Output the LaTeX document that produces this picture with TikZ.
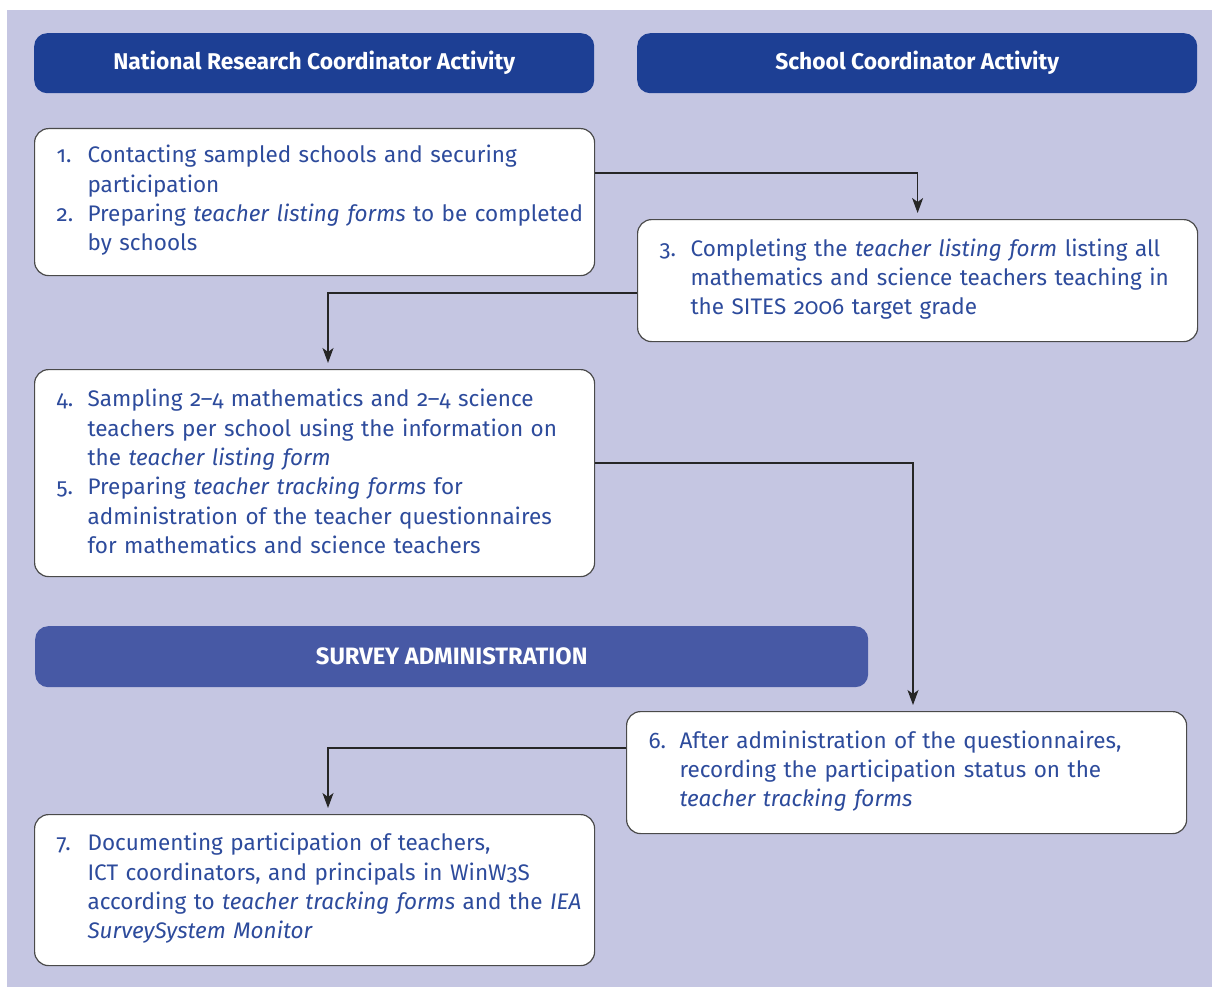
\documentclass[tikz,border=0pt]{standalone}
\usepackage{fontspec}
\setmainfont[Numbers=OldStyle]{Fira Sans}
\usetikzlibrary{arrows.meta}

\definecolor{panelbg}{HTML}{C5C6E2}
\definecolor{headblue}{HTML}{1D3F94}
\definecolor{survblue}{HTML}{4759A5}
\definecolor{txtblue}{HTML}{2D4B9C}
\definecolor{edgegray}{HTML}{4A4A4A}

\hyphenpenalty=10000
\newlength{\numw}\setlength{\numw}{31pt}
\newlength{\padw}\setlength{\padw}{22pt}
\newcommand{\stepitem}[2]{\par\hangindent=\dimexpr\padw+\numw\relax\hangafter=1
  \noindent\hspace*{\padw}\makebox[\numw][l]{#1}#2\par}

\tikzset{
  headbox/.style={fill=headblue, rounded corners=13pt, anchor=north west,
    minimum width=560pt, minimum height=60pt, text=white,
    font=\fontsize{22.8}{26}\selectfont\bfseries},
  stepbox/.style={draw=edgegray, line width=1.2pt, fill=white, rounded corners=14pt,
    anchor=north west, text=txtblue, align=left, inner xsep=0pt, inner ysep=0pt,
    text width=560pt, font=\fontsize{22.5}{29.3}\selectfont,
    execute at end node={\par\vspace*{15pt}}},
  link/.style={draw=black!85, line width=1.2pt,
    -{Stealth[length=15pt,width=11pt,inset=4pt]}, shorten >=6pt},
}

\begin{document}
\begin{tikzpicture}[x=1pt,y=-1pt]
    \useasboundingbox (0,0) rectangle (1212,987);
    % Fondo
    \fill[panelbg] (7,10) rectangle (1212,987);

    % Encabezados
    \node[headbox] (hnrc) at (34,33) {National Research Coordinator Activity};
    \node[headbox] (hsc) at (637,33) {School Coordinator Activity};

    % Pasos
    \node[stepbox, minimum height=147pt] (s12) at (34,128) {%
      \stepitem{1.}{Contacting sampled schools and securing\newline participation}
      \stepitem{2.}{Preparing \textit{teacher listing forms} to be completed\newline by schools}};
    \node[stepbox, minimum height=122pt] (s3) at (637,219) {%
      \stepitem{3.}{Completing the \textit{teacher listing form} listing all\newline mathematics and science teachers teaching in\newline the SITES 2006 target grade}};
    \node[stepbox, minimum height=207pt] (s45) at (34,369) {%
      \stepitem{4.}{Sampling 2--4 mathematics and 2--4 science\newline teachers per school using the information on\newline the \textit{teacher listing form}}
      \stepitem{5.}{Preparing \textit{teacher tracking forms} for\newline administration of the teacher questionnaires\newline for mathematics and science teachers}};

    % Barra de administracion
    \node[headbox, fill=survblue, minimum width=833pt, minimum height=61pt,
      font=\fontsize{23.7}{26}\selectfont\bfseries] (surv) at (35,626) {SURVEY ADMINISTRATION};

    \node[stepbox, minimum height=122pt] (s6) at (626,711) {%
      \stepitem{6.}{After administration of the questionnaires,\newline recording the participation status on the\newline \textit{teacher tracking forms}}};
    \node[stepbox, minimum height=151pt] (s7) at (34,814) {%
      \stepitem{7.}{Documenting participation of teachers,\newline ICT coordinators, and principals in WinW3S\newline according to \textit{teacher tracking forms} and the \textit{IEA}\newline \textit{SurveySystem Monitor}}};

    % Flechas
    \draw[link] (s12.east |- 0,173) -| (s3.north);
    \draw[link] (s3.west |- 0,293) -| (s45.north -| 328,0);
    \draw[link] (s45.east |- 0,463) -| (s6.north -| 913,0);
    \draw[link] (s6.west |- 0,748) -| (s7.north -| 328,0);
\end{tikzpicture}
\end{document}
